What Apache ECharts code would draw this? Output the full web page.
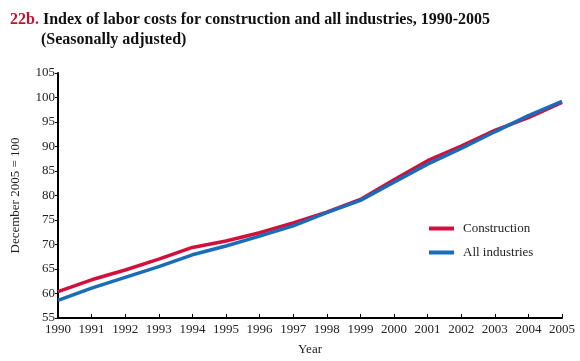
<!DOCTYPE html>
<html><head><meta charset="utf-8">
<script src="https://cdn.jsdelivr.net/npm/echarts@6/dist/echarts.min.js"></script>
<style>html,body{margin:0;padding:0;background:#fff}#c{width:580px;height:361px}</style>
</head><body><div id="c"></div>
<script>
var years = ['1990','1991','1992','1993','1994','1995','1996','1997','1998','1999','2000','2001','2002','2003','2004','2005'];
var construction = [60.4, 62.8, 64.8, 67.0, 69.4, 70.7, 72.4, 74.4, 76.6, 79.2, 83.2, 87.1, 90.1, 93.3, 95.9, 99.0];
var allIndustries = [58.6, 61.1, 63.3, 65.5, 67.9, 69.7, 71.7, 73.8, 76.5, 79.0, 82.7, 86.4, 89.6, 93.0, 96.3, 99.2];
var F = '"Liberation Serif", "Times New Roman", serif';
var chart = echarts.init(document.getElementById('c'));
chart.setOption({
  animation: false,
  backgroundColor: '#fff',
  title: {
    left: 5, top: 5,
    text: '{n|22b.} {t|Index of labor costs for construction and all industries, 1990-2005}\n{s|(Seasonally adjusted)}',
    textStyle: {
      fontFamily: F, fontSize: 16, fontWeight: 'bold', lineHeight: 20,
      rich: {
        n: {color: '#c8102e', fontFamily: F, fontSize: 16, fontWeight: 'bold'},
        t: {color: '#111', fontFamily: F, fontSize: 16, fontWeight: 'bold'},
        s: {color: '#111', fontFamily: F, fontSize: 16, fontWeight: 'bold', padding: [0,0,0,31]}
      }
    }
  },
  legend: {
    orient: 'vertical', left: 424, top: 217, itemGap: 11,
    itemWidth: 25, itemHeight: 4, icon: 'rect',
    textStyle: {fontFamily: F, fontSize: 13, color: '#222', padding: [0,0,0,4]},
    data: ['Construction', 'All industries']
  },
  grid: {left: 58, right: 18, top: 73, bottom: 39},
  xAxis: {
    type: 'category', data: years, boundaryGap: false,
    name: 'Year', nameLocation: 'middle', nameGap: 25,
    nameTextStyle: {fontFamily: F, fontSize: 13, color: '#222'},
    axisLine: {lineStyle: {color: '#000', width: 2}},
    axisTick: {inside: true, length: 4, lineStyle: {color: '#000', width: 1}},
    axisLabel: {fontFamily: F, fontSize: 13, color: '#222', margin: 5, interval: 0},
    splitLine: {show: false}
  },
  yAxis: {
    type: 'value', min: 55, max: 105, interval: 5,
    name: 'December 2005 = 100', nameLocation: 'middle', nameGap: 36,
    nameTextStyle: {fontFamily: F, fontSize: 13, color: '#222'},
    axisLine: {show: true, lineStyle: {color: '#000', width: 2}},
    axisTick: {show: true, length: 3, lineStyle: {color: '#000', width: 1}},
    axisLabel: {fontFamily: F, fontSize: 13, color: '#222', margin: 3},
    splitLine: {show: false}
  },
  series: [
    {name: 'Construction', type: 'line', data: construction, symbol: 'none',
     lineStyle: {color: '#d2103c', width: 3.5}, itemStyle: {color: '#d2103c'}},
    {name: 'All industries', type: 'line', data: allIndustries, symbol: 'none',
     lineStyle: {color: '#1b6cb8', width: 3.5}, itemStyle: {color: '#1b6cb8'}}
  ]
});
</script>
</body></html>
